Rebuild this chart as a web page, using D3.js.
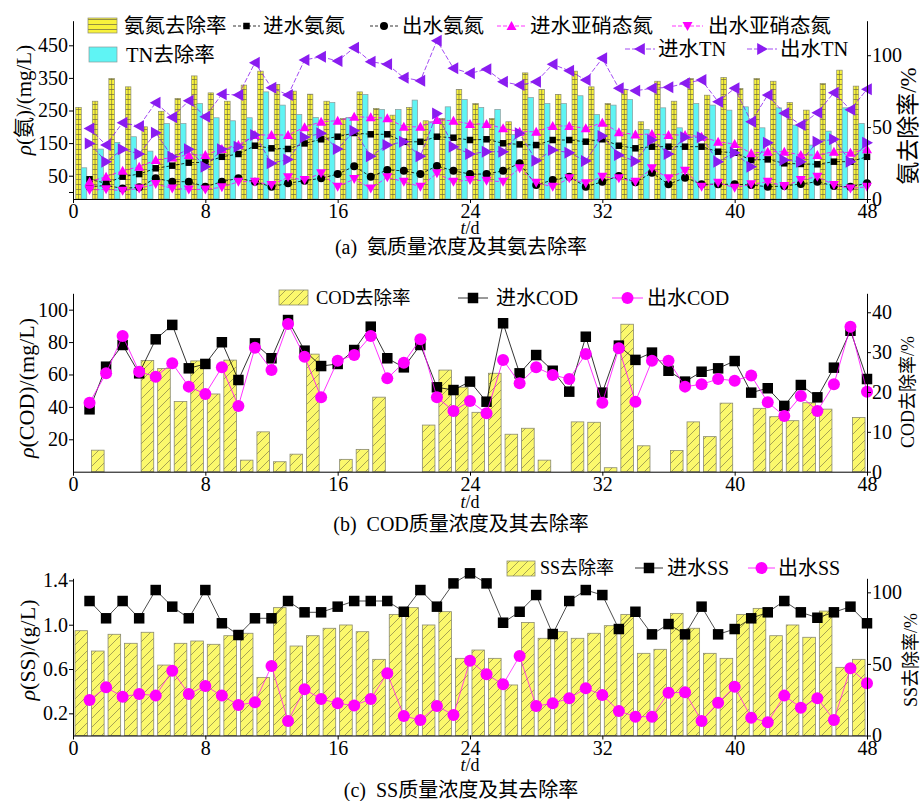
<!DOCTYPE html>
<html>
<head>
<meta charset="utf-8">
<script src="https://cdn.jsdelivr.net/npm/d3@7/dist/d3.min.js"></script>
<style>
  body { margin: 0; background: #fff; }
  text { font-family: "Liberation Serif", "Times New Roman", "Noto Sans CJK SC", serif; fill: #000; }
</style>
</head>
<body>
<div id="chart"></div>
<script>
// ---- data ----
var days = [1,2,3,4,5,6,7,8,9,10,11,12,13,14,15,16,17,18,19,20,21,22,23,24,
            25,26,27,28,29,30,31,32,33,34,35,36,37,38,39,40,41,42,43,44,45,46,47,48];
var dayTicks = [0, 8, 16, 24, 32, 40, 48];

// panel (a) removal rates, %
var nh4Removal = [63.7,68,83.8,78,50.2,61,70,85.6,73.8,68,79.2,88.9,79.6,75,72.9,68,56,74.5,63,58.3,63.7,54.4,56,76.2,
                  66.4,56,53.7,87.7,76.2,72.7,88.9,78,66.4,76.2,53.7,81.9,68,83.8,72.2,84.5,76.9,83.8,81.9,67.1,61.8,80.3,89.6,78.5];
var tnRemoval  = [21.7,34.7,39.4,43.3,33.3,52.5,52.5,66.4,56.5,54.4,56.5,74.5,65.3,58.8,56.7,67.1,56.7,72.7,62.3,62.3,68.8,53.7,64.1,69.2,
                  63.7,62.3,44.9,70.6,66.4,66.4,71.8,58.8,65.3,69.2,48.4,63.4,49.5,66.4,65.3,61.8,64.1,49.5,63.4,51.4,37.5,47.2,63.4,52.6];
// panel (a) concentrations, mg/L
var inNH4  = [39,26.6,47,55,72.7,80.8,90,91,108,116.6,142,134,132,149,161.7,169.6,181,177,177,154,154,169.6,166.6,159.5,
              161.7,149.4,146,144,159.5,159.5,154.3,161.7,142,134,139,139,139,139,123.6,120.6,98,100,88,86,85,93,93,108];
var outNH4 = [16,20,11,14.4,42,31.6,31.6,16,31.6,42,31.6,16,26.7,34.7,42,55,78.7,47,67.5,65,55,79.8,65,55,
              55,65,88,21.5,36.8,47,16,31.6,49,30,59,23.6,44,23.6,23.6,23.6,21.5,16,18.4,24.5,31.6,18.4,16,26.7];
var inNO2  = [31.6,47,65,77.6,98,106,113.5,113.5,132,144,175,175,175,198.5,215.6,218.7,231,229,226,200,200,221,218.7,208.6,
              208.6,195.4,185,185,202.5,202.5,195.4,212.6,183,176,178,175,175,169.6,154.3,147,118.7,123.6,123.6,113.5,113.5,123.6,120.6,131];
var outNO2 = [6,8.2,4,11,24.5,11,8,8,14.4,31.6,31.6,21.5,45,36.8,57.4,16,40,11,45,31.6,16,57.4,31.6,36.8,
              34.7,31.6,72.7,28.5,16,42,26.7,47,42,31.6,72.7,42,65,16,28.5,13,23.6,31.6,18.4,36.8,47,21.5,11,16];
var inTN   = [195,144,212.6,202,274,229,280,231,300,297.5,396.6,320,297.5,405,415,401.8,442.6,399.7,391.7,350.6,341.6,464,379.4,364,
              376.4,338,328,338,391.7,372,343.6,410,318,310.7,318,321,333.4,343.6,277,318,215.6,297.5,241.4,205.5,243.3,304.6,252.5,315];
var outTN  = [149,93,131,116.6,182,108,131,77.6,131,139,175,88,100,168,180,132,188,110,144,154,110,241,139,116.6,
              123.6,123.6,180,96,128.8,120.6,95,172,113.5,94,159.5,116.6,168,168,93,120.6,77.6,151,98,93,154.3,161.7,93,151];

// panel (b)
var codRemoval = [0,5.4,0,0,27.9,25.9,17.6,27.8,19.5,28,2.9,10,2.5,4.4,29.5,0,3.1,5.6,18.7,0,0,11.7,25.5,21.2,
                  14.9,24.7,9.4,10.9,2.9,0,12.5,12.4,1,37,6.5,0,5.3,12.5,8.8,17.2,0,15.9,13.8,12.8,17.3,15.7,0,13.6];
var inCOD  = [38.5,64.8,78.2,60.7,81.7,90.6,63.8,66.5,79.9,56.6,79.2,70,93.6,74.7,65.2,66.5,75.1,89.5,70,64.4,78.2,52.1,50.4,55.6,
              43.2,91.6,60.7,72,62.3,49.4,83.3,48.8,77.8,69,73.5,62.3,55.6,61.7,63.8,68.3,48.8,51.5,40.6,53.5,45.9,64.2,87,57.2];
var outCOD = [42.6,60.7,83.8,61.7,58.6,66.9,52.5,48,64.4,40.6,76.5,62.8,91.2,71,45.9,68.5,72,83.8,57.6,67.3,81.7,45.9,37.5,43.6,
              36,69,54.6,64.4,59.7,57.2,72.7,42.6,76.2,43.2,68.5,68.5,52.5,53.9,57.2,56.2,59.3,42.8,34.4,46.7,37.5,53.9,89.5,49.4];

// panel (c)
var ssRemoval = [73.2,59,70.7,64.4,72.1,49.2,64.4,66,63.7,69.7,71.4,40.6,89.3,62.5,69.7,74.9,77.2,72.5,53.2,84.6,89.3,77.2,86.5,53.9,
                 59.7,53.9,35.3,79,67.9,72.5,67.9,71.4,76.7,84.6,57.4,60.2,85.3,74.9,57.4,53.9,84.6,88.8,69.7,77.2,68.6,86.9,47.6,53.2];
var inSS  = [1.214,1.058,1.214,1.058,1.313,1.163,1.058,1.313,1.013,0.907,1.058,1.058,1.214,1.112,1.112,1.163,1.214,1.214,1.214,1.117,1.313,1.163,1.373,1.464,
             1.373,1.018,1.117,1.268,0.916,1.214,1.313,1.268,0.961,1.117,0.913,1.006,0.913,1.163,0.913,0.961,1.058,1.112,1.214,1.112,1.063,1.112,1.163,1.013];
var outSS = [0.32,0.435,0.35,0.375,0.36,0.585,0.375,0.447,0.36,0.275,0.3,0.627,0.131,0.417,0.33,0.29,0.27,0.33,0.561,0.176,0.14,0.266,0.185,0.675,
             0.552,0.462,0.717,0.266,0.29,0.336,0.426,0.366,0.221,0.17,0.17,0.386,0.39,0.131,0.296,0.44,0.161,0.119,0.36,0.251,0.336,0.14,0.607,0.471];

// ---- setup ----
var W = 922, H = 801;
var MAGENTA = '#ff00ff', PURPLE = '#8a1cf0', CYAN = '#5ff4f4';
var FONT = '"Liberation Serif", "Times New Roman", "Noto Sans CJK SC", serif';
var TICKFS = 20;

var svg = d3.select('#chart').append('svg')
  .attr('width', W).attr('height', H);
svg.append('rect').attr('width', W).attr('height', H).attr('fill', '#fff');

var x = d3.scaleLinear().domain([0, 48]).range([73, 867]);

var defs = svg.append('defs');
// brick pattern of the ammonia bars
var brick = defs.append('pattern').attr('id', 'brick')
  .attr('patternUnits', 'userSpaceOnUse').attr('width', 6).attr('height', 5);
brick.append('rect').attr('width', 6).attr('height', 5).attr('fill', '#f8f23c');
brick.append('line').attr('x1', 0).attr('x2', 6).attr('y1', 4.5).attr('y2', 4.5)
  .attr('stroke', '#6a6640').attr('stroke-width', 0.7);
// hatch pattern for COD / SS bars
var hatch = defs.append('pattern').attr('id', 'hatch')
  .attr('patternUnits', 'userSpaceOnUse').attr('width', 9).attr('height', 9);
hatch.append('rect').attr('width', 9).attr('height', 9).attr('fill', '#fbf86c');
hatch.append('path').attr('d', 'M0,9 L9,0 M-2,2 L2,-2 M7,11 L11,7')
  .attr('stroke', '#6e6a40').attr('stroke-width', 0.6);

// marker shapes
function shape(kind, s) {
  var h = s / 2;
  if (kind == 'square') return 'M' + (-h) + ',' + (-h) + 'h' + s + 'v' + s + 'h' + (-s) + 'Z';
  if (kind == 'up')    return 'M0,' + (-h) + 'L' + h + ',' + (h * 0.8) + 'L' + (-h) + ',' + (h * 0.8) + 'Z';
  if (kind == 'down')  return 'M0,' + h + 'L' + h + ',' + (-h * 0.8) + 'L' + (-h) + ',' + (-h * 0.8) + 'Z';
  if (kind == 'left')  return 'M' + (-h) + ',0L' + (h * 0.8) + ',' + (-h) + 'L' + (h * 0.8) + ',' + h + 'Z';
  if (kind == 'right') return 'M' + h + ',0L' + (-h * 0.8) + ',' + (-h) + 'L' + (-h * 0.8) + ',' + h + 'Z';
}

function drawMarker(g, kind, size, color, cx, cy) {
  if (kind == 'circle') {
    g.append('circle').attr('cx', cx).attr('cy', cy).attr('r', size / 2).attr('fill', color);
  } else {
    g.append('path').attr('d', shape(kind, size))
      .attr('transform', 'translate(' + cx + ',' + cy + ')').attr('fill', color);
  }
}

function drawSeries(g, vals, y, s) {
  var pts = days.map(function (d, i) { return [x(d), y(vals[i])]; });
  g.append('path').datum(pts)
    .attr('d', d3.line())
    .attr('fill', 'none')
    .attr('stroke', s.color)
    .attr('stroke-width', s.lw || 0.8)
    .attr('stroke-dasharray', s.dash || null);
  pts.forEach(function (p) { drawMarker(g, s.marker, s.size, s.color, p[0], p[1]); });
}

function styleAxis(g) {
  g.attr('font-size', TICKFS).attr('font-family', FONT);
  g.select('.domain').attr('stroke', '#000').attr('stroke-width', 1);
  g.selectAll('.tick line').attr('stroke', '#000');
}

function axes(p, yL, yR, leftTicks, rightTicks, leftFmt) {
  var gx = svg.append('g').attr('transform', 'translate(0,' + p.bottom + ')')
    .call(d3.axisBottom(x).tickValues(dayTicks).tickSize(4).tickSizeOuter(0).tickPadding(1));
  styleAxis(gx);
  var gl = svg.append('g').attr('transform', 'translate(' + x(0) + ',0)')
    .call(d3.axisLeft(yL).tickValues(leftTicks).tickSize(4).tickSizeOuter(0).tickPadding(1).tickFormat(leftFmt));
  styleAxis(gl);
  var gr = svg.append('g').attr('transform', 'translate(' + x(48) + ',0)')
    .call(d3.axisRight(yR).tickValues(rightTicks).tickSize(4).tickSizeOuter(0).tickPadding(1));
  styleAxis(gr);
}

function vlabel(cx, cy, fs) {
  return svg.append('text')
    .attr('transform', 'translate(' + cx + ',' + cy + ') rotate(-90)')
    .attr('text-anchor', 'middle').attr('dominant-baseline', 'central')
    .attr('font-size', fs);
}

function xlabel(cy) {
  var t = svg.append('text').attr('x', x(24)).attr('y', cy)
    .attr('text-anchor', 'middle').attr('dominant-baseline', 'central').attr('font-size', 18);
  t.append('tspan').attr('font-style', 'italic').text('t');
  t.append('tspan').text('/d');
}

function caption(txt, cy) {
  svg.append('text').attr('x', 461).attr('y', cy)
    .attr('text-anchor', 'middle').attr('dominant-baseline', 'central')
    .attr('font-size', 20).attr('xml:space', 'preserve').text(txt);
}

function legText(txt, lx, ly, fs) {
  svg.append('text').attr('x', lx).attr('y', ly).attr('dominant-baseline', 'central')
    .attr('font-size', fs).text(txt);
}

function legLine(x1, x2, ly, s) {
  svg.append('line').attr('x1', x1).attr('x2', x2).attr('y1', ly).attr('y2', ly)
    .attr('stroke', s.color).attr('stroke-width', 0.8).attr('stroke-dasharray', s.dash || null);
  drawMarker(svg, s.marker, s.size, s.color, (x1 + x2) / 2, ly);
}

// ================= panel (a) =================
var pa = { top: 20.7, bottom: 199 };
var yaL = d3.scaleLinear().domain([-21.5, 525.5]).range([pa.bottom, pa.top]);
var yaR = d3.scaleLinear().domain([0, 124]).range([pa.bottom, pa.top]);

var ga = svg.append('g');
var bw = 5.5;
ga.selectAll('.nh4').data(nh4Removal).enter().append('rect')
  .attr('x', function (d, i) { return x(days[i] - 0.5) - bw; })
  .attr('y', function (d) { return yaR(d); })
  .attr('width', bw)
  .attr('height', function (d) { return pa.bottom - yaR(d); })
  .attr('fill', 'url(#brick)').attr('stroke', '#8a8a70').attr('stroke-width', 0.7);
ga.selectAll('.nh4c').data(nh4Removal).enter().append('line')
  .attr('x1', function (d, i) { return x(days[i] - 0.5) - bw / 2; })
  .attr('x2', function (d, i) { return x(days[i] - 0.5) - bw / 2; })
  .attr('y1', function (d) { return yaR(d); })
  .attr('y2', pa.bottom)
  .attr('stroke', '#6a6640').attr('stroke-width', 0.6);
ga.selectAll('.tn').data(tnRemoval).enter().append('rect')
  .attr('x', function (d, i) { return x(days[i] - 0.5); })
  .attr('y', function (d) { return yaR(d); })
  .attr('width', bw)
  .attr('height', function (d) { return pa.bottom - yaR(d); })
  .attr('fill', CYAN).attr('stroke', '#8a9a9a').attr('stroke-width', 0.7);

var sA = {
  inNH4:  { color: '#000', marker: 'square', size: 6.5, dash: '3,2' },
  outNH4: { color: '#000', marker: 'circle', size: 8, dash: '3,2' },
  inNO2:  { color: MAGENTA, marker: 'up', size: 10, dash: '4,2' },
  outNO2: { color: MAGENTA, marker: 'down', size: 10, dash: '4,2' },
  inTN:   { color: PURPLE, marker: 'left', size: 12, dash: '5,2' },
  outTN:  { color: PURPLE, marker: 'right', size: 12, dash: '5,2' }
};
drawSeries(ga, inNH4, yaL, sA.inNH4);
drawSeries(ga, outNH4, yaL, sA.outNH4);
drawSeries(ga, inNO2, yaL, sA.inNO2);
drawSeries(ga, outNO2, yaL, sA.outNO2);
drawSeries(ga, inTN, yaL, sA.inTN);
drawSeries(ga, outTN, yaL, sA.outTN);

axes(pa, yaL, yaR, [0, 50, 150, 250, 350, 450], [0, 50, 100],
     function (d) { return d == 0 ? '' : d; });

// legend (a)
var LA = 20.5;
svg.append('rect').attr('x', 88).attr('y', 18).attr('width', 29).attr('height', 15)
  .attr('fill', 'url(#brick)').attr('stroke', '#8a8a70').attr('stroke-width', 0.7);
legText('氨氮去除率', 124, 26, LA);
legLine(233, 260, 26, sA.inNH4);  legText('进水氨氮', 263, 26, LA);
legLine(370, 398, 26, sA.outNH4); legText('出水氨氮', 402, 26, LA);
legLine(497, 526, 26, sA.inNO2);  legText('进水亚硝态氮', 530, 26, LA);
legLine(672, 703, 26, sA.outNO2); legText('出水亚硝态氮', 708, 26, LA);
svg.append('rect').attr('x', 89).attr('y', 47).attr('width', 28).attr('height', 15)
  .attr('fill', CYAN).attr('stroke', '#8a9a9a').attr('stroke-width', 0.7);
legText('TN去除率', 126, 55, LA);
legLine(625, 655, 49, sA.inTN);  legText('进水TN', 658, 49, LA);
legLine(747, 777, 49, sA.outTN); legText('出水TN', 780, 49, LA);

var la = vlabel(24, 100, 21);
la.append('tspan').attr('font-style', 'italic').text('ρ');
la.append('tspan').text('(氨)/(mg/L)');
vlabel(908, 126, 23).text('氨去除率/%');
xlabel(228);
caption('(a)  氨质量浓度及其氨去除率', 247);

// ================= panel (b) =================
var pb = { top: 293.3, bottom: 471.7 };
var ybL = d3.scaleLinear().domain([0, 110.1]).range([pb.bottom, pb.top]);
var ybR = d3.scaleLinear().domain([0, 44.76]).range([pb.bottom, pb.top]);
var gb = svg.append('g');
var bw2 = 12.6;
gb.selectAll('.cod').data(codRemoval).enter().append('rect')
  .attr('x', function (d, i) { return x(days[i] - 0.5) - bw2 / 2; })
  .attr('y', function (d) { return ybR(d); })
  .attr('width', bw2)
  .attr('height', function (d) { return pb.bottom - ybR(d); })
  .attr('fill', 'url(#hatch)')
  .attr('stroke', function (d) { return d > 0 ? '#8a8a70' : 'none'; })
  .attr('stroke-width', 0.8);

var sB = {
  inCOD:  { color: '#000', marker: 'square', size: 10.5, lw: 0.8 },
  outCOD: { color: MAGENTA, marker: 'circle', size: 12, lw: 0.8 }
};
drawSeries(gb, inCOD, ybL, sB.inCOD);
drawSeries(gb, outCOD, ybL, sB.outCOD);
axes(pb, ybL, ybR, [20, 40, 60, 80, 100], [0, 10, 20, 30, 40], function (d) { return d; });

svg.append('rect').attr('x', 279).attr('y', 290).attr('width', 29).attr('height', 15)
  .attr('fill', 'url(#hatch)').attr('stroke', '#8a8a70').attr('stroke-width', 0.8);
legText('COD去除率', 316, 298, 18.5);
legLine(458, 488, 298, sB.inCOD);  legText('进水COD', 496, 298, 20);
legLine(612, 643, 298, sB.outCOD); legText('出水COD', 647, 298, 20);

var lb = vlabel(26, 388, 22);
lb.append('tspan').attr('font-style', 'italic').text('ρ');
lb.append('tspan').text('(COD)/(mg/L)');
vlabel(908, 392, 18).text('COD去除率/%');
xlabel(502);
caption('(b)  COD质量浓度及其去除率', 524);

// ================= panel (c) =================
var pc = { top: 578.3, bottom: 735.5 };
var ycL = d3.scaleLinear().domain([0, 1.419]).range([pc.bottom, pc.top]);
var ycR = d3.scaleLinear().domain([0, 109.8]).range([pc.bottom, pc.top]);
var gc = svg.append('g');
gc.selectAll('.ss').data(ssRemoval).enter().append('rect')
  .attr('x', function (d, i) { return x(days[i] - 0.5) - bw2 / 2; })
  .attr('y', function (d) { return ycR(d); })
  .attr('width', bw2)
  .attr('height', function (d) { return pc.bottom - ycR(d); })
  .attr('fill', 'url(#hatch)').attr('stroke', '#8a8a70').attr('stroke-width', 0.8);

var sC = {
  inSS:  { color: '#000', marker: 'square', size: 10.5, lw: 0.7 },
  outSS: { color: MAGENTA, marker: 'circle', size: 12, lw: 0.7 }
};
drawSeries(gc, inSS, ycL, sC.inSS);
drawSeries(gc, outSS, ycL, sC.outSS);
axes(pc, ycL, ycR, [0.2, 0.6, 1.0, 1.4], [0, 50, 100], d3.format('.1f'));

svg.append('rect').attr('x', 507).attr('y', 561).attr('width', 28).attr('height', 15)
  .attr('fill', 'url(#hatch)').attr('stroke', '#8a8a70').attr('stroke-width', 0.8);
legText('SS去除率', 540, 568, 18);
legLine(635, 663, 568, sC.inSS);  legText('进水SS', 667, 568, 20);
legLine(748, 775, 568, sC.outSS); legText('出水SS', 778, 568, 20);

var lc = vlabel(27, 650, 22);
lc.append('tspan').attr('font-style', 'italic').text('ρ');
lc.append('tspan').text('(SS)/(g/L)');
vlabel(911, 660, 18).text('SS去除率/%');
xlabel(765);
caption('(c)  SS质量浓度及其去除率', 790);
</script>
</body>
</html>
